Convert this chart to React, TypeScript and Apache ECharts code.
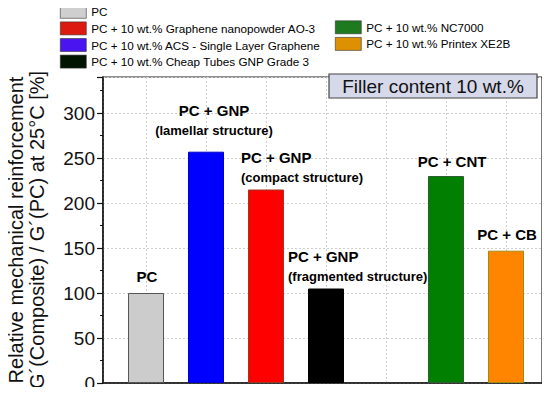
import React, { useEffect, useRef } from "react";
import * as echarts from "echarts";

const seriesNames = [
  "PC",
  "PC + 10 wt.% Graphene nanopowder AO-3",
  "PC + 10 wt.% ACS - Single Layer Graphene",
  "PC + 10 wt.% Cheap Tubes GNP Grade 3",
  "PC + 10 wt.% NC7000",
  "PC + 10 wt.% Printex XE2B",
];
const positions = [1, 3, 2, 4, 6, 7];
const values = [100, 215, 257, 105, 230, 147];
const labelTitles = ["PC", "PC + GNP", "PC + GNP", "PC + GNP", "PC + CNT", "PC + CB"];
const labelSubtitles = ["", "(compact structure)", "(lamellar structure)", "(fragmented structure)", "", ""];
const yTitle = ["Relative mechanical reinforcement", "G´(Composite) / G´(PC) at 25°C [%]"];
const boxText = "Filler content 10 wt.%";

const barColors = ["#cccccc", "#ff0000", "#0000ff", "#000000", "#007f00", "#ff8400"];
const barBorders = ["#555555", "#9a3a1c", "#0000c8", "#000000", "#2f5f2f", "#a08a10"];
const legendColors = ["#cfcfcf", "#dd1a10", "#4a14f0", "#001400", "#1e7a1e", "#dd9000"];
// label placement: [dx, dy, align]
const labelLayout: [number, number, string][] = [
  [1, -7, "center"],
  [-25, -2, "left"],
  [8, -11, "center"],
  [-38, -2, "left"],
  [6, -5, "center"],
  [1, -6, "center"],
];

const FONT = "'Liberation Sans', Arial, sans-serif";

export default function App() {
  const ref = useRef<HTMLDivElement>(null);
  useEffect(() => {
    if (!ref.current) return;
    const chart = echarts.init(ref.current, null, { renderer: "svg" });
    const series = seriesNames.map((name, i) => {
      const [dx, dy, align] = labelLayout[i];
      const sub = labelSubtitles[i];
      return {
        name,
        type: "bar",
        barWidth: 36,
        barGap: "-100%",
        itemStyle: { color: barColors[i], borderColor: barBorders[i], borderWidth: 1 },
        data: [
          {
            value: [positions[i], values[i]],
            label: {
              show: true,
              position: "top",
              distance: 0,
              offset: [dx, dy],
              align,
              fontFamily: FONT,
              formatter: sub ? `{a|${labelTitles[i]}}\n{b|${sub}}` : `{a|${labelTitles[i]}}`,
              rich: {
                a: { fontSize: 15, fontWeight: "bold", color: "#000", lineHeight: 20, fontFamily: FONT, align },
                b: { fontSize: 13, fontWeight: "bold", color: "#000", lineHeight: 20, fontFamily: FONT, align },
              },
            },
          },
        ],
      };
    });
    const legendBase = {
      orient: "vertical",
      icon: "rect",
      itemWidth: 26,
      itemHeight: 13,
      itemGap: 3,
      padding: 0,
      selectedMode: false,
      textStyle: { fontSize: 11.7, color: "#000", fontFamily: FONT, lineHeight: 13, padding: [0, 0, 0, 0] },
    };
    const legendItem = (i: number) => ({
      name: seriesNames[i],
      itemStyle: { color: legendColors[i], borderColor: "#333", borderWidth: 0.6 },
    });
    chart.setOption({
      animation: false,
      textStyle: { fontFamily: FONT },
      legend: [
        { ...legendBase, left: 60, top: 5, data: [0, 1, 2, 3].map(legendItem) },
        { ...legendBase, left: 335, top: 20.5, data: [4, 5].map(legendItem) },
      ],
      grid: {
        left: 103,
        right: 8,
        top: 77,
        bottom: 12,
        show: true,
        borderColor: "#222",
        borderWidth: 1.2,
        containLabel: false,
      },
      xAxis: {
        type: "value",
        min: 0.283,
        max: 7.6,
        minInterval: 1,
        maxInterval: 1,
        axisLine: { show: true, onZero: false, lineStyle: { color: "#111", width: 1.5 } },
        axisTick: { show: false },
        axisLabel: { show: false },
        splitLine: { show: true, lineStyle: { color: "#cfcfcf", type: [2, 2], width: 1 } },
      },
      yAxis: {
        type: "value",
        min: 0,
        max: 340,
        interval: 50,
        axisLine: { show: true, lineStyle: { color: "#111", width: 1.5 } },
        axisTick: { show: true, inside: false, length: 6, lineStyle: { color: "#111", width: 1.2 } },
        minorTick: { show: true, splitNumber: 2, length: 3, lineStyle: { color: "#111", width: 1 } },
        axisLabel: {
          fontSize: 19,
          color: "#111",
          fontFamily: FONT,
          margin: 8,
          showMaxLabel: false,
          formatter: (v: number) => (v % 50 === 0 ? String(v) : ""),
        },
        splitLine: { show: true, lineStyle: { color: "#cfcfcf", type: [2, 2], width: 1 } },
      },
      graphic: [
        {
          type: "text",
          x: 26,
          y: 230,
          rotation: Math.PI / 2,
          style: {
            text: yTitle.join("\n"),
            fontSize: 20,
            lineHeight: 21,
            fontFamily: FONT,
            fill: "#111",
            align: "center",
            verticalAlign: "middle",
          },
        },
        {
          type: "rect",
          shape: { x: 329, y: 74, width: 208, height: 24 },
          style: { fill: "#d6d9ea", stroke: "#444", lineWidth: 1.2 },
          z: 10,
        },
        {
          type: "text",
          x: 433,
          y: 86.5,
          z: 11,
          style: {
            text: boxText,
            fontSize: 19,
            fontFamily: FONT,
            fill: "#111",
            align: "center",
            verticalAlign: "middle",
          },
        },
      ],
      series,
    });
    return () => chart.dispose();
  }, []);
  return <div ref={ref} style={{ width: 550, height: 395, margin: -8 }} />;
}
